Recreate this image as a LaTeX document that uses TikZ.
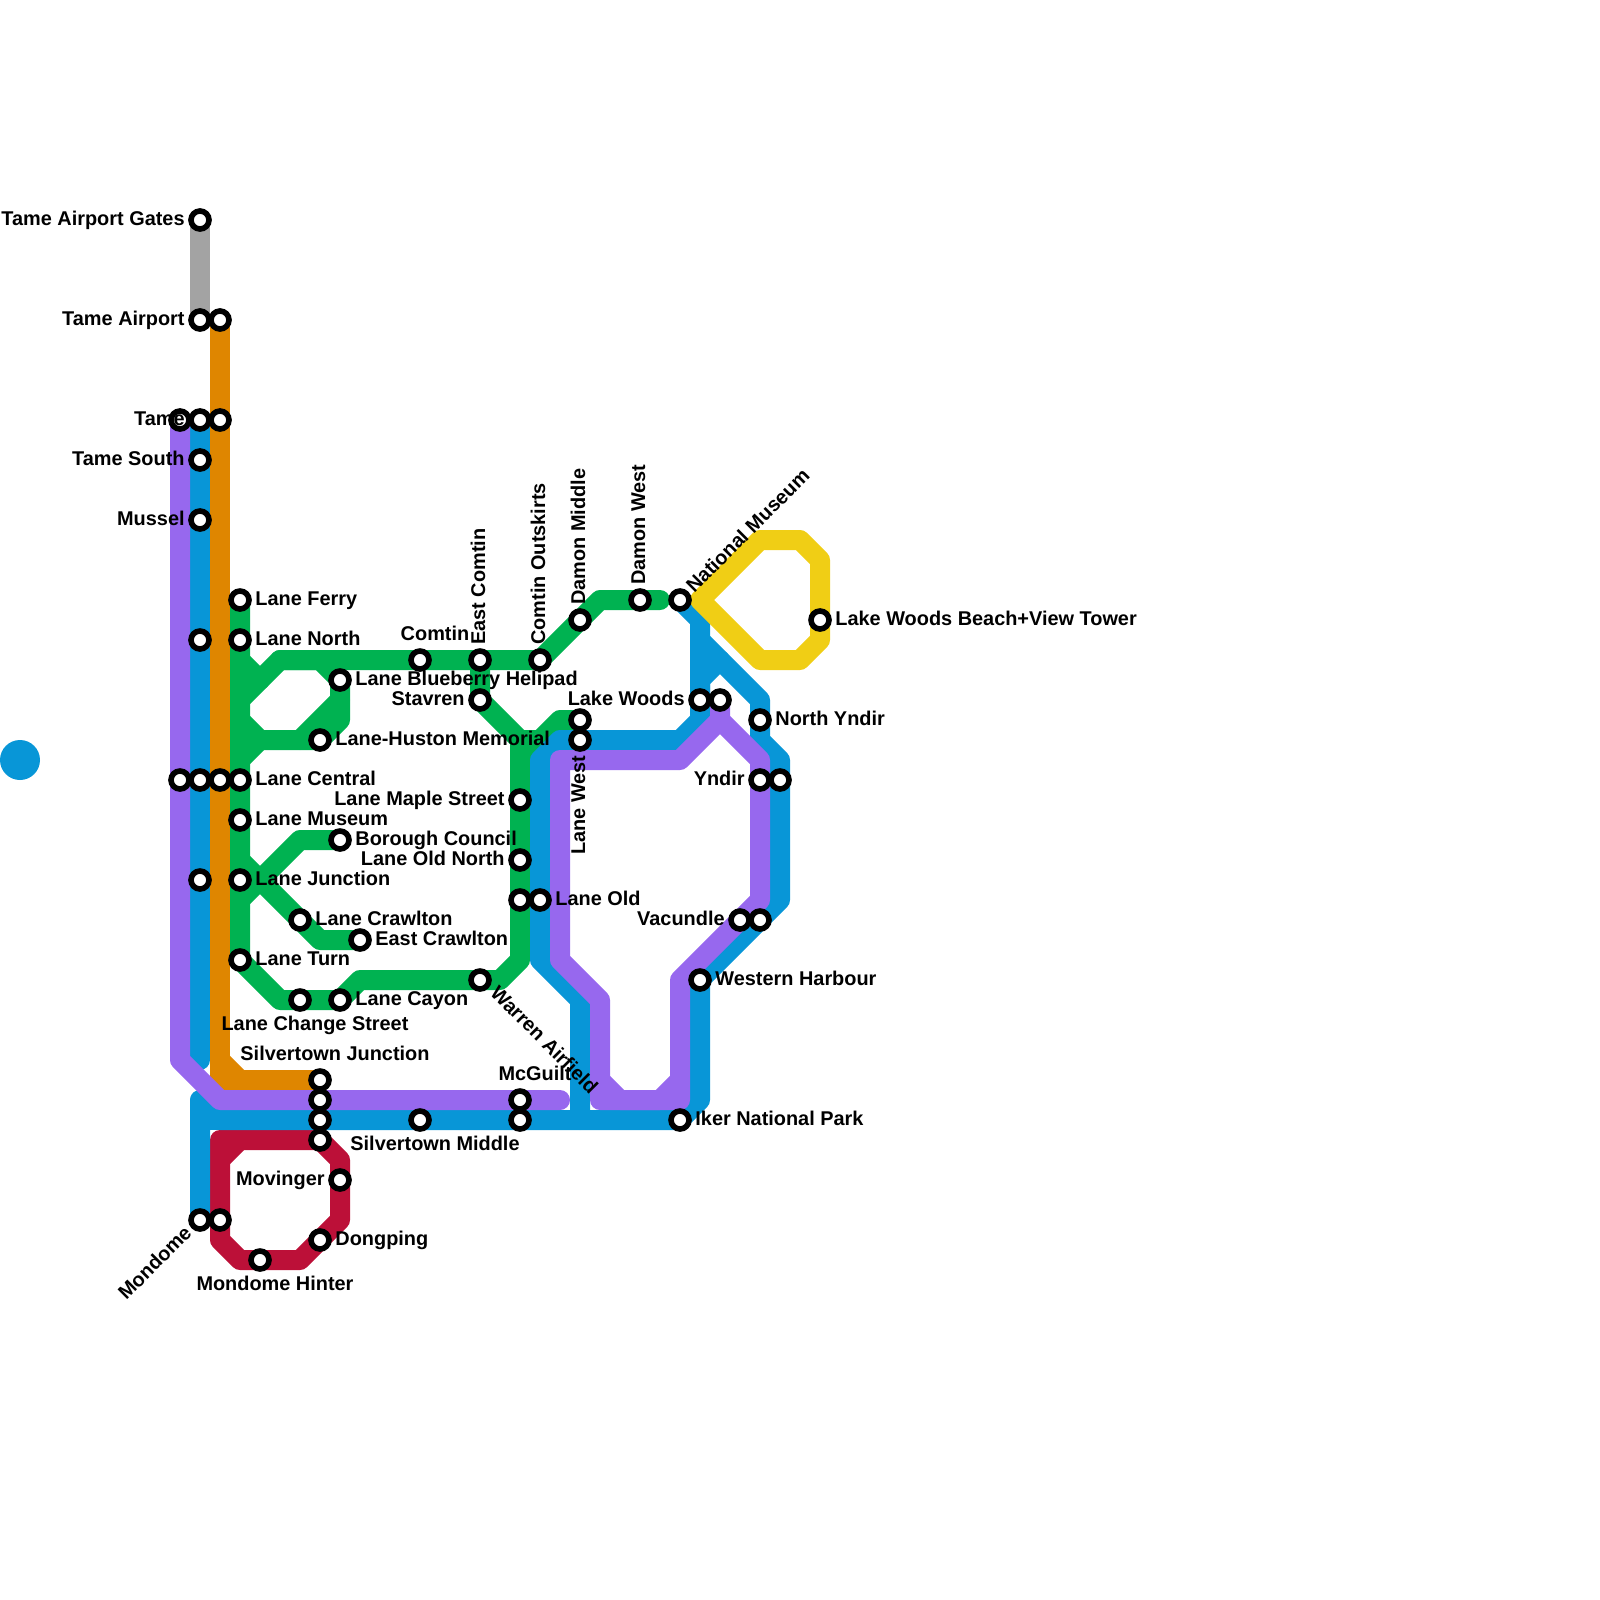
\documentclass[tikz,border=0pt]{standalone}
\usepackage{fontspec}
\setmainfont{Liberation Sans}
\pgfdeclarelayer{lines}
\pgfsetlayers{lines,main}
\definecolor{cblue}{HTML}{0896D7}
\definecolor{cpurple}{HTML}{9768EE}
\definecolor{cgreen}{HTML}{00B251}
\definecolor{corange}{HTML}{DF8600}
\definecolor{cred}{HTML}{BC1038}
\definecolor{cyellow}{HTML}{F0CE15}
\definecolor{cgrey}{HTML}{A3A3A3}
\tikzset{
  route/.style={line width=10pt,line join=round,line cap=round},
  stn/.style={circle,draw=black,fill=white,line width=2.8pt,minimum size=9pt,inner sep=0pt},
  lab/.style={font=\fontsize{9.95pt}{12pt}\selectfont\bfseries,inner sep=0pt,text=black},
  lr/.style={lab,anchor=base west},
  ll/.style={lab,anchor=base east},
  lc/.style={lab,anchor=base}
}
\begin{document}
\begin{tikzpicture}[x=0.5pt,y=-0.5pt]
\useasboundingbox (0,0) rectangle (1600,1600);
% stations
\node[stn] (gates) at (200,220) {};
\node[stn] (air) at (200,320) {};
\node[stn] (air2) at (220,320) {};
\node[stn] (tame0) at (180,420) {};
\node[stn] (tame) at (200,420) {};
\node[stn] (tame2) at (220,420) {};
\node[stn] (tsouth) at (200,460) {};
\node[stn] (mussel) at (200,520) {};
\node[stn] (ferry) at (240,600) {};
\node[stn] (bn) at (200,640) {};
\node[stn] (north) at (240,640) {};
\node[stn] (blue) at (340,680) {};
\node[stn] (huston) at (320,740) {};
\node[stn] (cp) at (180,780) {};
\node[stn] (cb) at (200,780) {};
\node[stn] (co) at (220,780) {};
\node[stn] (central) at (240,780) {};
\node[stn] (museum) at (240,820) {};
\node[stn] (borough) at (340,840) {};
\node[stn] (bj) at (200,880) {};
\node[stn] (junction) at (240,880) {};
\node[stn] (crawl) at (300,920) {};
\node[stn] (ecrawl) at (360,940) {};
\node[stn] (turn) at (240,960) {};
\node[stn] (change) at (300,1000) {};
\node[stn] (cayon) at (340,1000) {};
\node[stn] (comtin) at (420,660) {};
\node[stn] (ecomtin) at (480,660) {};
\node[stn] (outsk) at (540,660) {};
\node[stn] (stav) at (480,700) {};
\node[stn] (dmid) at (580,620) {};
\node[stn] (dwest) at (640,600) {};
\node[stn] (natmus) at (680,600) {};
\node[stn] (beach) at (820,620) {};
\node[stn] (lwood) at (700,700) {};
\node[stn] (lwood2) at (720,700) {};
\node[stn] (nyndir) at (760,720) {};
\node[stn] (yndir) at (760,780) {};
\node[stn] (yndir2) at (780,780) {};
\node[stn] (lwestg) at (580,720) {};
\node[stn] (lwest) at (580,740) {};
\node[stn] (maple) at (520,800) {};
\node[stn] (oldn) at (520,860) {};
\node[stn] (oldg) at (520,900) {};
\node[stn] (old) at (540,900) {};
\node[stn] (warren) at (480,980) {};
\node[stn] (mcg) at (520,1100) {};
\node[stn] (mcgb) at (520,1120) {};
\node[stn] (vac) at (740,920) {};
\node[stn] (vac2) at (760,920) {};
\node[stn] (wharb) at (700,980) {};
\node[stn] (iker) at (680,1120) {};
\node[stn] (sj) at (320,1080) {};
\node[stn] (sjp) at (320,1100) {};
\node[stn] (sjb) at (320,1120) {};
\node[stn] (sjr) at (320,1140) {};
\node[stn] (smid) at (420,1120) {};
\node[stn] (mov) at (340,1180) {};
\node[stn] (dong) at (320,1240) {};
\node[stn] (hint) at (260,1260) {};
\node[stn] (mond) at (200,1220) {};
\node[stn] (mond2) at (220,1220) {};
\coordinate (gend) at (660,600);
\coordinate (pend) at (560,1100);
\coordinate (bend) at (200,1060);
% labels
\node[ll] (l1) at (185,225) {Tame Airport Gates};
\node[ll] (l2) at (185,325) {Tame Airport};
\node[ll] (l3) at (185,425) {Tame};
\node[ll] (l4) at (185,465) {Tame South};
\node[ll] (l5) at (185,525) {Mussel};
\node[lr] (l6) at (255,605) {Lane Ferry};
\node[lr] (l7) at (255,645) {Lane North};
\node[lr] (l8) at (355,685) {Lane Blueberry Helipad};
\node[lr] (l9) at (335,745) {Lane-Huston Memorial};
\node[lr] (l10) at (255,785) {Lane Central};
\node[lr] (l11) at (255,825) {Lane Museum};
\node[lr] (l12) at (355,845) {Borough Council};
\node[lr] (l13) at (255,885) {Lane Junction};
\node[lr] (l14) at (315,925) {Lane Crawlton};
\node[lr] (l15) at (375,945) {East Crawlton};
\node[lr] (l16) at (255,965) {Lane Turn};
\node[lr] (l17) at (355,1005) {Lane Cayon};
\node[lc] (l18) at (315,1030.5) {Lane Change Street};
\node[lc] (l19) at (335,1060) {Silvertown Junction};
\node[lc] (l20) at (435,1150) {Silvertown Middle};
\node[lc] (l21) at (535,1080) {McGuilt};
\node[lc] (l22) at (435,640) {Comtin};
\node[ll] (l23) at (465,705) {Stavren};
\node[ll] (l24) at (505,805) {Lane Maple Street};
\node[ll] (l25) at (505,865) {Lane Old North};
\node[lr] (l26) at (555,905) {Lane Old};
\node[ll] (l27) at (685,705) {Lake Woods};
\node[lr] (l28) at (775,725) {North Yndir};
\node[ll] (l29) at (745,785) {Yndir};
\node[ll] (l30) at (725,925) {Vacundle};
\node[lr] (l31) at (715,985) {Western Harbour};
\node[lr] (l32) at (695,1125) {Iker National Park};
\node[lr] (l33) at (835,625) {Lake Woods Beach+View Tower};
\node[ll] (l34) at (325,1185) {Movinger};
\node[lr] (l35) at (335,1245) {Dongping};
\node[lc] (l36) at (275,1290) {Mondome Hinter};
\node[lr,rotate=90] (l37) at (485,645) {East Comtin};
\node[lr,rotate=90] (l38) at (545,645) {Comtin Outskirts};
\node[lr,rotate=90] (l39) at (585,605) {Damon Middle};
\node[lr,rotate=90] (l40) at (645,585) {Damon West};
\node[ll,rotate=90] (l41) at (585,755) {Lane West};
\node[lr,rotate=45] (l42) at (694,594) {National Museum};
\node[ll,rotate=45] (l43) at (193,1234) {Mondome};
\node[lr,rotate=-45] (l44) at (489,994) {Warren Airfield};
\begin{pgfonlayer}{lines}
\fill[cblue] (20,760) circle (10pt);
\draw[route,cgrey,line cap=butt] (gates.center) -- (air.center);
\draw[route,corange,line cap=butt] (air2.center) -- (tame2.center) -- (co.center) -- (220,1080) -- (sj.center);
\draw[route,corange] (220,1060) -- (240,1080);
% green
\draw[route,cgreen] (ferry.center) -- (north.center) -- (central.center) -- (museum.center) -- (junction.center) -- (turn.center) -- (280,1000) -- (change.center) -- (cayon.center) -- (360,980) -- (warren.center) -- (500,980) -- (520,960) -- (oldg.center) -- (oldn.center) -- (maple.center) -- (520,740) -- (stav.center) -- (ecomtin.center);
\draw[route,cgreen] (240,700) -- (280,660) -- (comtin.center) -- (ecomtin.center) -- (outsk.center) -- (dmid.center) -- (600,600) -- (dwest.center) -- (gend);
\draw[route,cgreen] (240,660) -- (260,680);
\draw[route,cgreen] (280,660) -- (320,660) -- (blue.center) -- (340,720) -- (320,740) -- (huston.center) -- (260,740) -- (240,720);
\draw[route,cgreen] (340,700) -- (300,740);
\draw[route,cgreen] (240,760) -- (260,740);
\draw[route,cgreen] (240,900) -- (300,840) -- (borough.center);
\draw[route,cgreen] (240,860) -- (crawl.center) -- (320,940) -- (ecrawl.center);
\draw[route,cgreen] (520,760) -- (560,720) -- (lwestg.center);
\draw[route,cgreen] (520,740) -- (540,740);
% red
\draw[route,cred] (mond2.center) -- (220,1140) -- (sjr.center) -- (340,1160) -- (mov.center) -- (340,1220) -- (dong.center) -- (300,1260) -- (hint.center) -- (240,1260) -- (220,1240) -- (mond2.center);
\draw[route,cred] (220,1160) -- (240,1140);
% blue
\draw[route,cblue] (tame.center) -- (tsouth.center) -- (mussel.center) -- (bn.center) -- (cb.center) -- (bj.center) -- (bend);
\draw[route,cblue] (mond.center) -- (200,1100) -- (220,1120) -- (sjb.center) -- (smid.center) -- (mcgb.center) -- (iker.center) -- (700,1100) -- (wharb.center) -- (780,900) -- (yndir2.center) -- (780,760) -- (760,740) -- (nyndir.center) -- (760,700) -- (720,660) -- (700,680) -- (lwood.center);
\draw[route,cblue] (200,1120) -- (220,1120);
\draw[route,cblue] (700,640) -- (720,660);
\draw[route,cblue] (natmus.center) -- (700,620) -- (lwood.center) -- (700,720) -- (680,740) -- (lwest.center) -- (560,740) -- (540,760) -- (old.center) -- (540,960) -- (580,1000) -- (580,1120);
% purple
\draw[route,cpurple] (tame0.center) -- (cp.center) -- (180,1060) -- (220,1100) -- (sjp.center) -- (mcg.center) -- (pend);
\draw[route,cpurple] (lwood2.center) -- (720,720) -- (680,760) -- (560,760) -- (560,960) -- (600,1000) -- (600,1100) -- (680,1100) -- (680,980) -- (vac.center) -- (760,900) -- (yndir.center) -- (760,760) -- (720,720);
\draw[route,cpurple] (600,1080) -- (620,1100) -- (660,1100) -- (680,1080);
% yellow
\draw[route,cyellow] (700,600) -- (760,540) -- (800,540) -- (820,560) -- (beach.center) -- (820,640) -- (800,660) -- (760,660) -- cycle;
\end{pgfonlayer}
\end{tikzpicture}
\end{document}
